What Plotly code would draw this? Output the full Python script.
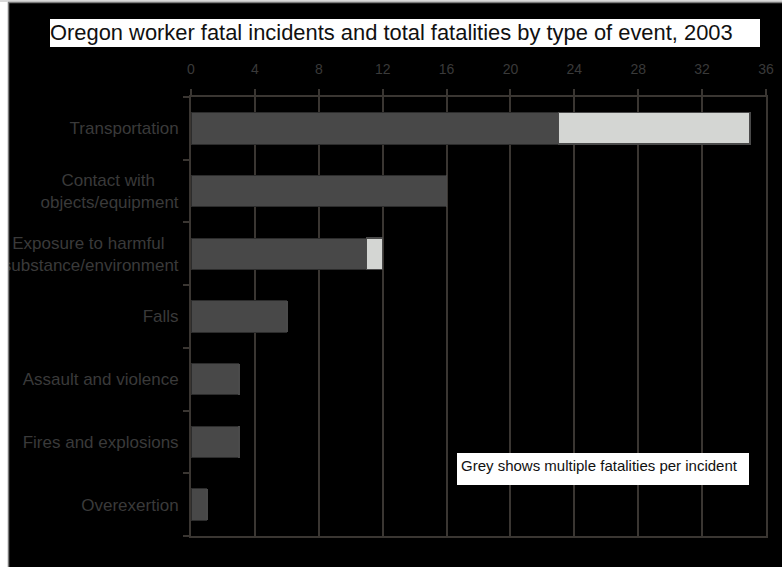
import plotly.graph_objects as go

categories = ["Transportation", "Contact with objects/equipment",
              "Exposure to harmful substance/environment", "Falls",
              "Assault and violence", "Fires and explosions", "Overexertion"]
category_labels = ["Transportation",
                   "Contact with" + "\u00a0" * 5 + "<br>objects/equipment",
                   "Exposure to harmful" + "\u00a0" * 3 + "<br>substance/environment",
                   "Falls", "Assault and violence", "Fires and explosions", "Overexertion"]
incidents = [23, 16, 11, 6, 3, 3, 1]
total_fatalities = [35, 16, 12, 6, 3, 3, 1]
extra = [t - i for t, i in zip(total_fatalities, incidents)]
x_ticks = [0, 4, 8, 12, 16, 20, 24, 28, 32, 36]

W, H = 782, 567
L, R, T, B = 191, 16, 97, 31
PW, PH = W - L - R, H - T - B


def xp(px):
    return (px - L) / PW


def yp(py):
    return (H - B - py) / PH


GRID = "#3a3632"
TXT = "#3a3a3a"

fig = go.Figure()
fig.add_trace(go.Bar(y=categories, x=incidents, orientation="h",
                     marker=dict(color="#484848", line=dict(color="#2c2c2c", width=1)),
                     name="Incidents"))
fig.add_trace(go.Bar(y=categories, x=extra, orientation="h",
                     marker=dict(color="#d4d6d3", line=dict(color="#4a4a4a", width=1.5)),
                     name="Additional fatalities"))

shapes = [
    dict(type="rect", xref="paper", yref="paper", x0=xp(-5), x1=xp(8), y0=yp(H + 5), y1=yp(-5),
         fillcolor="white", line=dict(width=0), layer="above"),
    dict(type="rect", xref="paper", yref="paper", x0=xp(-5), x1=xp(W + 5), y0=yp(2), y1=yp(-5),
         fillcolor="#d9d9d9", line=dict(width=0), layer="above"),
    dict(type="line", xref="paper", yref="paper", x0=xp(8.5), x1=xp(8.5), y0=yp(H + 5), y1=yp(2),
         line=dict(color="#7a7a7a", width=1.5), layer="above"),
    dict(type="line", xref="paper", yref="paper", x0=xp(8), x1=xp(W + 5), y0=yp(2.5), y1=yp(2.5),
         line=dict(color="#7a7a7a", width=1.5), layer="above"),
    dict(type="rect", xref="paper", yref="paper", x0=xp(50), x1=xp(760), y0=yp(47), y1=yp(19),
         fillcolor="white", line=dict(width=0), layer="above"),
    dict(type="rect", xref="paper", yref="paper", x0=xp(457), x1=xp(749), y0=yp(485), y1=yp(453),
         fillcolor="white", line=dict(width=0), layer="above"),
]

annotations = [
    dict(text="Oregon worker fatal incidents and total fatalities by type of event, 2003",
         xref="paper", yref="paper", x=xp(48), y=yp(33), xanchor="left", yanchor="middle",
         showarrow=False, font=dict(family="Liberation Sans, Arial", size=21.9, color="#111111")),
    dict(text="Grey shows multiple fatalities per incident",
         xref="paper", yref="paper", x=xp(459), y=yp(465), xanchor="left", yanchor="middle",
         showarrow=False, font=dict(family="Liberation Sans, Arial", size=15, color="#111111")),
]

fig.update_layout(
    width=W, height=H,
    margin=dict(l=L, r=R, t=T, b=B, pad=0, autoexpand=False),
    paper_bgcolor="black", plot_bgcolor="black",
    barmode="stack", bargap=0.5,
    showlegend=False,
    shapes=shapes, annotations=annotations,
    font=dict(family="Liberation Sans, Arial", color=TXT),
    xaxis=dict(side="top", range=[0, 36], tickvals=x_ticks, ticktext=[str(v) for v in x_ticks],
               ticks="outside", ticklen=6, tickwidth=2, tickcolor=GRID,
               showline=True, linecolor=GRID, linewidth=2, mirror=True,
               showgrid=True, gridcolor=GRID, gridwidth=2, zeroline=False,
               automargin=False,
               tickfont=dict(size=14, color=TXT), ticklabelstandoff=9),
    yaxis=dict(type="category", categoryorder="array", categoryarray=categories,
               tickvals=categories, ticktext=category_labels,
               autorange="reversed", tickson="boundaries",
               ticks="outside", ticklen=6, tickwidth=2, tickcolor=GRID,
               showline=True, linecolor=GRID, linewidth=2, mirror=True,
               showgrid=False, zeroline=False, automargin=False,
               tickfont=dict(size=17, color=TXT), ticklabelstandoff=7),
)

fig.write_html("out.html")
